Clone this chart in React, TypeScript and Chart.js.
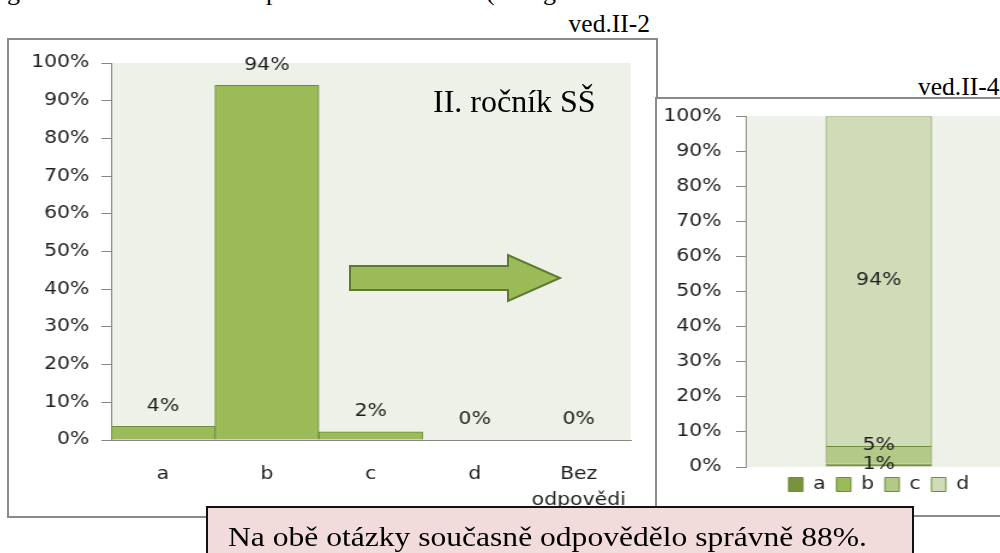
import React, { useEffect, useRef } from 'react';
import { Chart, registerables } from 'chart.js';

Chart.register(...registerables);
Chart.defaults.font.family = '"DejaVu Sans", Verdana, sans-serif';

// ---- data ----
const leftCategories: (string | string[])[] = ['a', 'b', 'c', 'd', ['Bez', 'odpovědi']];
const leftValues = [3.6, 94.1, 2.2, 0, 0];

const rightSeries = ['a', 'b', 'c', 'd'];
const rightValues = [1, 0, 5, 94];
const rightColors = ['#77933C', '#9BBB59', '#B3C987', '#D0DCB8'];

const yMin = 0;
const yMax = 100;
const yStep = 10;

const TEXT = '#1E1E1E';
const AXIS = '#868686';
const PLOT_BG = '#EEF1E8';
const STRETCH = 1.2;

const plotBg = {
  id: 'plotBg',
  beforeDraw(chart: any) {
    const { ctx, chartArea: a } = chart;
    ctx.save();
    ctx.fillStyle = PLOT_BG;
    ctx.fillRect(a.left, a.top, a.right - a.left, a.bottom - a.top);
    ctx.restore();
  },
};

const leftLabelPlugin = {
  id: 'leftLabels',
  afterDatasetsDraw(chart: any) {
    const ctx = chart.ctx;
    const meta = chart.getDatasetMeta(0);
    ctx.save();
    ctx.font = '17px "DejaVu Sans"';
    ctx.fillStyle = TEXT;
    ctx.textAlign = 'center';
    ctx.textBaseline = 'middle';
    meta.data.forEach((bar: any, i: number) => {
      ctx.fillText(Math.round(leftValues[i]) + '%', bar.x, bar.y - 20);
    });
    ctx.restore();
  },
};

const stackLabelPlugin = {
  id: 'stackLabels',
  afterDatasetsDraw(chart: any) {
    const ctx = chart.ctx;
    ctx.save();
    ctx.font = '17px "DejaVu Sans"';
    ctx.fillStyle = TEXT;
    ctx.textAlign = 'center';
    ctx.textBaseline = 'middle';
    let prevY = Infinity;
    chart.data.datasets.forEach((ds: any, i: number) => {
      const v = ds.data[0];
      if (!v) return;
      const bar: any = chart.getDatasetMeta(i).data[0];
      const center = (bar.y + bar.base) / 2;
      const y = Math.min(center, prevY - 19);
      ctx.fillText(Math.round(v) + '%', bar.x, y);
      prevY = y;
    });
    ctx.restore();
  },
};

function yScale(tickPadding: number, width: number, stacked = false) {
  return {
    stacked,
    min: yMin,
    max: yMax,
    ticks: {
      stepSize: yStep,
      callback: (v: any) => v + '%',
      color: TEXT,
      font: { size: 17 },
      padding: tickPadding,
      autoSkip: false,
    },
    grid: { drawOnChartArea: false, drawTicks: true, tickLength: 8, color: AXIS },
    border: { display: true, color: AXIS },
    afterFit: (s: any) => {
      s.width = width;
    },
  };
}

function ChartBox({ makeConfig, left, top, width, height }: any) {
  const ref = useRef<HTMLCanvasElement | null>(null);
  useEffect(() => {
    const chart = new Chart(ref.current as HTMLCanvasElement, makeConfig());
    return () => chart.destroy();
  }, []);
  return (
    <div
      style={{
        position: 'absolute',
        left,
        top,
        width,
        height,
        transform: `scaleX(${STRETCH})`,
        transformOrigin: '0 0',
      }}
    >
      <canvas ref={ref} width={width} height={height} style={{ width, height, display: 'block' }} />
    </div>
  );
}

const leftConfig = () => ({
  type: 'bar',
  data: {
    labels: leftCategories,
    datasets: [
      {
        data: leftValues,
        backgroundColor: '#9BBB59',
        borderColor: '#71893F',
        borderWidth: 1,
        categoryPercentage: 1,
        barPercentage: 1,
      },
    ],
  },
  options: {
    responsive: false,
    animation: false,
    events: [],
    layout: { padding: { top: 23, right: 21, left: 0, bottom: 0 } },
    plugins: { legend: { display: false }, tooltip: { enabled: false } },
    scales: {
      x: {
        grid: { display: false },
        border: { display: true, color: AXIS },
        ticks: {
          color: TEXT,
          font: { size: 17, lineHeight: 1.53 },
          padding: 14,
          maxRotation: 0,
          autoSkip: false,
        },
        afterFit: (s: any) => {
          s.height = 76;
        },
      },
      y: yScale(10, 85),
    },
  },
  plugins: [plotBg, leftLabelPlugin],
});

const rightConfig = () => ({
  type: 'bar',
  data: {
    labels: [''],
    datasets: rightSeries.map((name, i) => ({
      label: name,
      data: [rightValues[i]],
      backgroundColor: rightColors[i],
      borderColor: '#6F8C3E',
      borderWidth: 1,
      barPercentage: 0.4,
      categoryPercentage: 1,
    })),
  },
  options: {
    responsive: false,
    animation: false,
    events: [],
    layout: { padding: { top: 13, right: 5, left: 0, bottom: 12 } },
    plugins: {
      tooltip: { enabled: false },
      legend: {
        display: true,
        position: 'bottom',
        fullSize: false,
        labels: {
          boxWidth: 12,
          boxHeight: 14,
          padding: 9,
          color: TEXT,
          font: { size: 17 },
        },
      },
    },
    scales: {
      x: { stacked: true, display: false },
      y: yScale(12, 73, true),
    },
  },
  plugins: [plotBg, stackLabelPlugin],
});

const serif = '"Liberation Serif", "Times New Roman", serif';

export default function App() {
  return (
    <div
      style={{
        position: 'fixed',
        left: 0,
        top: 0,
        width: 1000,
        height: 553,
        overflow: 'hidden',
        background: '#fff',
      }}
    >
      <svg
        width={1000}
        height={553}
        style={{ position: 'absolute', left: 0, top: 0 }}
      >
        <g fontFamily={serif} fontSize={26} fill="#000">
          <text x={7} y={0}>g</text>
          <text x={266} y={0}>p</text>
          <text x={486} y={0}>(</text>
          <text x={543} y={0}>g</text>
        </g>
        <text x={650} y={32} textAnchor="end" fontFamily={serif} fontSize={25.5} fill="#000">
          ved.II-2
        </text>
        <text x={918} y={95} fontFamily={serif} fontSize={25.5} fill="#000">
          ved.II-4
        </text>
        <rect x={8} y={39} width={649} height={478} fill="#fff" stroke="#8A8A8A" strokeWidth={2} />
        <rect x={656} y={98} width={400} height={418} fill="#fff" stroke="#8A8A8A" strokeWidth={2} />
      </svg>

      <ChartBox makeConfig={leftConfig} left={9} top={40} width={539} height={476} />
      <ChartBox makeConfig={rightConfig} left={658} top={94} width={300} height={421} />

      <svg
        width={1000}
        height={553}
        style={{ position: 'absolute', left: 0, top: 0, pointerEvents: 'none' }}
      >
        <polygon
          points="350,266 508,266 508,255 560,278 508,301 508,290 350,290"
          fill="#9BBB59"
          stroke="#5E7A2E"
          strokeWidth={2}
          strokeLinejoin="miter"
        />
        <text x={433} y={112} fontFamily={serif} fontSize={32} fill="#000">
          II. ročník SŠ
        </text>
        <rect x={207} y={507} width={706} height={60} fill="#F2DCDB" stroke="#111" strokeWidth={2} />
        <text
          x={228}
          y={546}
          fontFamily={serif}
          fontSize={28}
          fill="#000"
          textLength={639}
          lengthAdjust="spacingAndGlyphs"
        >
          Na obě otázky současně odpovědělo správně 88%.
        </text>
      </svg>
    </div>
  );
}
